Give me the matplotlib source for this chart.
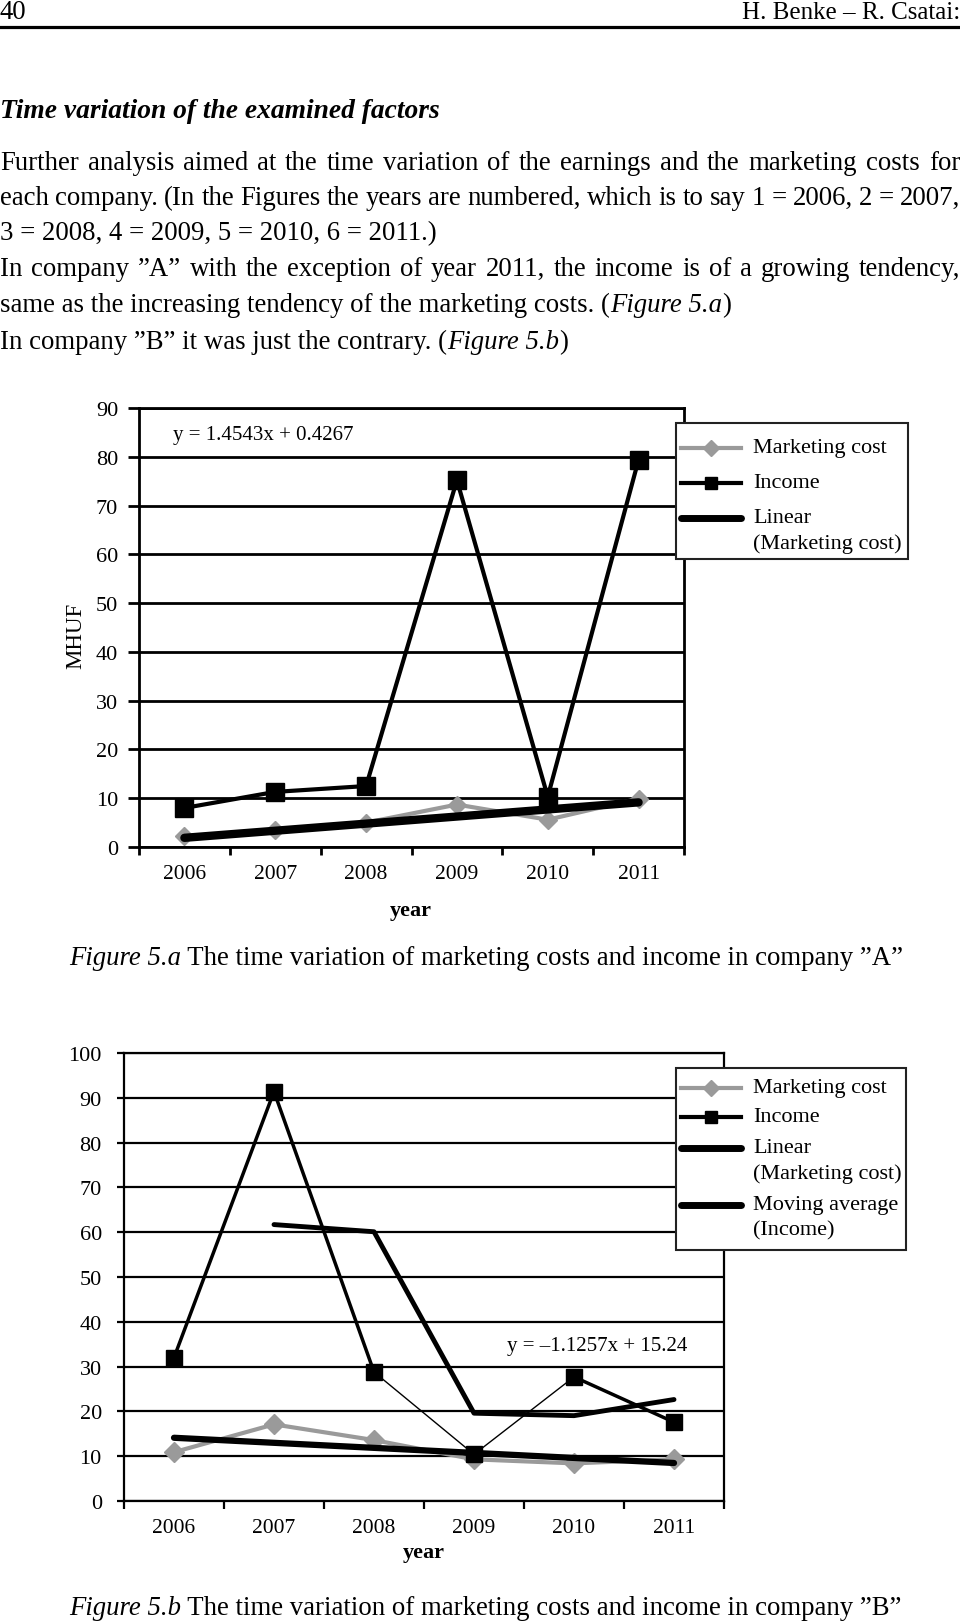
import matplotlib.pyplot as plt
import numpy as np
import pandas as pd
from matplotlib.lines import Line2D
from matplotlib.patches import Rectangle

plt.rcParams['font.family'] = ['Liberation Serif', 'DejaVu Serif']

years = ['2006', '2007', '2008', '2009', '2010', '2011']

# company A, MHUF
mkt_a = [2.2, 3.4, 5.0, 8.7, 5.6, 9.9]
inc_a = [8.0, 11.3, 12.5, 75.2, 10.3, 79.4]
trend_a = (1.4543, 0.4267)   # y = 1.4543x + 0.4267

# company B
mkt_b = [10.9, 17.1, 13.6, 9.3, 8.4, 9.3]
inc_b = [32.0, 91.4, 28.8, 10.4, 27.7, 17.6]
trend_b = (-1.1257, 15.24)   # y = -1.1257x + 15.24
inc_b_widths = [2.5, 2.5, 1.0, 1.0, 2.5]  # scan shows thin/thick segments

body = [
    "Further analysis aimed at the time variation of the earnings and the marketing costs for",
    "each company. (In the Figures the years are numbered, which is to say 1 = 2006, 2 = 2007,",
    "In company \u201dA\u201d with the exception of year 2011, the income is of a growing tendency,",
]

W, H = 960, 1624
fig = plt.figure(figsize=(W / 100, H / 100), dpi=100)
renderer = fig.canvas.get_renderer()
GREY = '#9a9a9a'
BODY = 19.3


def fx(px):
    return px / W


def fy(py):
    return 1 - py / H


def put(x, y, s, **kw):
    t = fig.text(fx(x), fy(y), s, va='baseline', ha='left', **kw)
    return t.get_window_extent(renderer).width


def justified(y, line, size):
    words = line.split(' ')
    widths = []
    for w in words:
        t = fig.text(0, 0, w, fontsize=size)
        widths.append(t.get_window_extent(renderer).width)
        t.remove()
    gap = (W - sum(widths)) / (len(words) - 1)
    xpos = 0
    for w, wd in zip(words, widths):
        put(xpos, y, w, fontsize=size)
        xpos += wd + gap


def runs(x, y, parts, size):
    for s, style in parts:
        x += put(x, y, s, fontsize=size, style=style)


def legend_box(box, entries):
    x0, y0, x1, y1 = box
    fig.add_artist(Rectangle((fx(x0), fy(y1)), (x1 - x0) / W, (y1 - y0) / H,
                             transform=fig.transFigure, fc='white', ec='#222222', lw=1.5, zorder=2))
    for y, lines, kw in entries:
        fig.add_artist(Line2D([fx(681), fx(711), fx(741)], [fy(y)] * 3, transform=fig.transFigure,
                              markevery=[1], zorder=3, **kw))
        for k, s in enumerate(lines):
            fig.text(fx(753), fy(y + 25 * k), s, fontsize=16, va='center', ha='left', zorder=3)


# ---- page header and text ----
put(0, 19, '40', fontsize=BODY)
fig.text(1.0, fy(19), 'H. Benke \u2013 R. Csatai:', fontsize=18, ha='right', va='baseline')
fig.add_artist(Line2D([0, 1], [fy(28), fy(28)], transform=fig.transFigure, color='black', lw=2.3))

put(0, 118, 'Time variation of the examined factors', fontsize=19.8, style='italic', weight='bold')
justified(170, body[0], BODY)
justified(205, body[1], BODY)
put(0, 240, '3 = 2008, 4 = 2009, 5 = 2010, 6 = 2011.)', fontsize=BODY)
justified(276, body[2], BODY)
runs(0, 312, [('same as the increasing tendency of the marketing costs. (', 'normal'),
              ('Figure 5.a', 'italic'), (')', 'normal')], BODY)
runs(0, 349, [('In company \u201dB\u201d it was just the contrary. (', 'normal'),
              ('Figure 5.b', 'italic'), (')', 'normal')], BODY)

x = np.arange(len(years))
tx = x + 1


def style_axes(ax, ymax, ystep, grid_lw, ytick_len, ypad):
    ax.set_xlim(-0.5, 5.5)
    ax.set_ylim(0, ymax)
    ax.set_yticks(np.arange(0, ymax + 1, ystep))
    ax.set_xticks(np.arange(-0.5, 6, 1))
    ax.set_xticklabels([])
    ax.set_xticks(x, minor=True)
    ax.set_xticklabels(years, minor=True)
    ax.tick_params(axis='x', which='major', length=6, width=grid_lw, direction='out')
    ax.tick_params(axis='x', which='minor', length=0, pad=12, labelsize=15.5)
    ax.tick_params(axis='y', length=ytick_len, width=grid_lw, pad=ypad, labelsize=16)
    ax.grid(axis='y', color='black', lw=grid_lw)
    ax.set_axisbelow(True)
    for sp in ax.spines.values():
        sp.set_linewidth(grid_lw)
        sp.set_color('black')


mkt_handle = dict(color=GREY, lw=3, marker='D', ms=8)
inc_handle = dict(color='black', lw=3, marker='s', ms=8)
thick_handle = dict(color='black', lw=5, solid_capstyle='round')

# ---- Figure 5.a ----
axA = fig.add_axes([fx(139), fy(848), (684 - 139) / W, (848 - 409) / H])
axA.plot(x, mkt_a, color=GREY, lw=3, marker='D', ms=9, zorder=3)
axA.plot(x, inc_a, color='black', lw=3, marker='s', ms=13, zorder=4)
axA.plot(x, trend_a[0] * tx + trend_a[1], color='black', lw=6, solid_capstyle='round', zorder=5)
style_axes(axA, 90, 10, 2.0, 8, 7)
axA.text(0.062, 0.94, 'y = 1.4543x + 0.4267', transform=axA.transAxes, fontsize=15, va='center')

legend_box((676, 424, 908, 560), [
    (449, ['Marketing cost'], mkt_handle),
    (484, ['Income'], inc_handle),
    (519, ['Linear', '(Marketing cost)'], thick_handle),
])

fig.text(fx(76), fy(636), 'MHUF', rotation=90, fontsize=16.5, ha='center', va='center')
fig.text(fx(411), fy(911), 'year', fontsize=16, weight='bold', ha='center', va='center')
runs(69, 965, [('Figure 5.a', 'italic'),
               (' The time variation of marketing costs and income in company \u201dA\u201d', 'normal')], BODY)

# ---- Figure 5.b ----
axB = fig.add_axes([fx(124), fy(1502), (724 - 124) / W, (1502 - 1054) / H])
axB.plot(x, mkt_b, color=GREY, lw=3, marker='D', ms=10, zorder=3)
for i, lw in enumerate(inc_b_widths):
    axB.plot(x[i:i + 2], inc_b[i:i + 2], color='black', lw=lw, zorder=4)
axB.plot(x, inc_b, color='none', marker='s', ms=11, mfc='black', mec='black', zorder=4)
ma_b = pd.Series(inc_b).rolling(2).mean()
axB.plot(x, ma_b, color='black', lw=3.5, solid_capstyle='round', zorder=5)
axB.plot(x, trend_b[0] * tx + trend_b[1], color='black', lw=4.5, solid_capstyle='round', zorder=5)
style_axes(axB, 100, 10, 1.6, 5, 11)
axB.text(0.638, 0.348, 'y = \u20131.1257x + 15.24', transform=axB.transAxes, fontsize=15, va='center')

legend_box((676, 1069, 906, 1251), [
    (1089, ['Marketing cost'], mkt_handle),
    (1118, ['Income'], inc_handle),
    (1149, ['Linear', '(Marketing cost)'], thick_handle),
    (1206, ['Moving average', '(Income)'], thick_handle),
])

fig.text(fx(424), fy(1553), 'year', fontsize=16, weight='bold', ha='center', va='center')
runs(69, 1615, [('Figure 5.b', 'italic'),
                (' The time variation of marketing costs and income in company \u201dB\u201d', 'normal')], BODY)

fig.savefig('out.png', dpi=100)
